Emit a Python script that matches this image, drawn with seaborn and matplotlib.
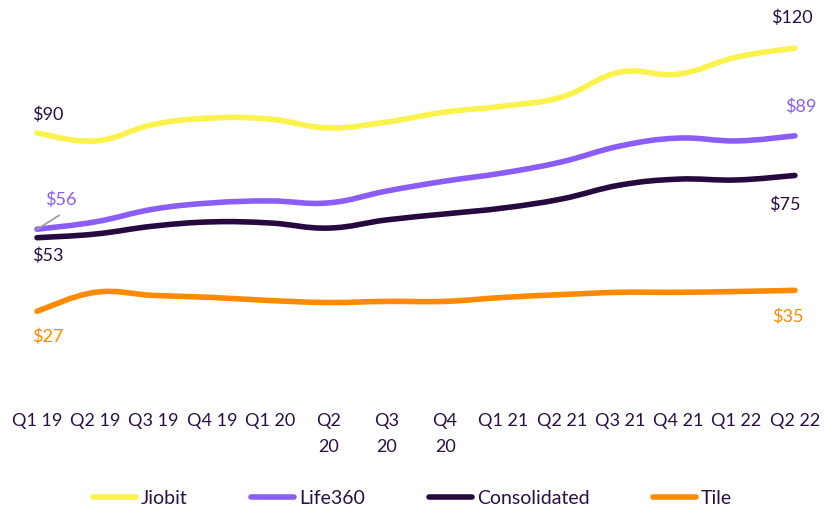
import matplotlib
matplotlib.use("Agg")
import matplotlib.pyplot as plt
from matplotlib.path import Path
from matplotlib.patches import PathPatch
import seaborn as sns
import pandas as pd
import numpy as np

# quarters (tick labels, some wrapped like the original)
quarters = ['Q1 19', 'Q2 19', 'Q3 19', 'Q4 19', 'Q1 20', 'Q2\n20', 'Q3\n20', 'Q4\n20',
            'Q1 21', 'Q2 21', 'Q3 21', 'Q4 21', 'Q1 22', 'Q2 22']

jiobit = [90, 87.2, 93, 95.3, 94.9, 91.8, 93.9, 97.4, 99.5, 102.7, 111.5, 110.8, 116.8, 120]
life360 = [56, 58.6, 63.1, 65.3, 66, 65.3, 69.5, 73, 75.9, 79.8, 85.4, 88.2, 87.2, 89]
consolidated = [53, 54.3, 57.1, 58.6, 58.2, 56.4, 59.3, 61.4, 63.5, 66.7, 71.6, 73.7, 73.4, 75]
tile = [27, 33.7, 32.6, 31.9, 30.8, 30.1, 30.5, 30.5, 31.9, 32.9, 33.7, 33.7, 34, 34.4]

series = {'Jiobit': jiobit, 'Life360': life360, 'Consolidated': consolidated, 'Tile': tile}
colors = {'Jiobit': '#fcf24c', 'Life360': '#8b5cf6', 'Consolidated': '#26093f', 'Tile': '#ff8a00'}
dark = '#2a0f47'

rows = []
for name, vals in series.items():
    for i, v in enumerate(vals):
        rows.append({'q': i, 'value': v, 'series': name})
df = pd.DataFrame(rows)


def smooth_path(xy, t=0.2):
    # bezier through the data points (spline-style line shape)
    verts = [tuple(xy[0])]
    codes = [Path.MOVETO]
    n = len(xy)
    for i in range(n - 1):
        p0 = xy[max(i - 1, 0)]
        p1 = xy[i]
        p2 = xy[i + 1]
        p3 = xy[min(i + 2, n - 1)]
        c1 = p1 + (p2 - p0) * t
        c2 = p2 - (p3 - p1) * t
        verts += [tuple(c1), tuple(c2), tuple(p2)]
        codes += [Path.CURVE4] * 3
    return Path(verts, codes)


sns.set_theme(style='white')
plt.rcParams['font.family'] = ['Lato', 'DejaVu Sans']

fig = plt.figure(figsize=(8.25, 5.07), dpi=100)
ax = fig.add_axes([0, 1 - 395 / 507, 1, 395 / 507])

sns.lineplot(data=df, x='q', y='value', hue='series', palette=colors, linewidth=4,
             ax=ax, legend=False)

# swap the straight polylines for smooth curves through the same points
for line in list(ax.get_lines()):
    xy = np.asarray(line.get_xydata(), dtype=float)
    patch = PathPatch(smooth_path(xy), facecolor='none', edgecolor=line.get_color(),
                      lw=4, capstyle='round', joinstyle='round', zorder=line.get_zorder())
    ax.add_patch(patch)
    line.set_visible(False)

ax.set_xlim(-37 / 58.3, (825 - 37) / 58.3)
ax.set_ylim(90 - (395 - 133) / 2.83, 90 + 133 / 2.83)
ax.set_xticks(range(len(quarters)))
ax.set_xticklabels(quarters, fontsize=13, color=dark, va='top', linespacing=1.75)
ax.tick_params(axis='x', length=0, pad=13)
ax.set_yticks([])
ax.set_xlabel('')
ax.set_ylabel('')
for s in ax.spines.values():
    s.set_visible(False)

last = len(quarters) - 1
lbl = dict(fontsize=13, ha='center', va='center', textcoords='offset points')
ax.annotate('$90', xy=(0, jiobit[0]), xytext=(8, 13), color=dark, **lbl)
ax.annotate('$56', xy=(0, life360[0]), xytext=(17, 21), color='#8b5cf6', **lbl)
# grey leader line for the $56 label
ax.annotate('', xy=(0, life360[0]), xytext=(16, 10), textcoords='offset points',
            arrowprops=dict(arrowstyle='-', color='#a0a0a0', lw=1.3, shrinkA=0, shrinkB=0),
            zorder=5)
ax.annotate('$53', xy=(0, consolidated[0]), xytext=(8, -13), color=dark, **lbl)
ax.annotate('$27', xy=(0, tile[0]), xytext=(8, -18), color='#ff8a00', **lbl)
ax.annotate('$120', xy=(last, jiobit[-1]), xytext=(-2, 22), color=dark, **lbl)
ax.annotate('$89', xy=(last, life360[-1]), xytext=(4, 21), color='#8b5cf6', **lbl)
ax.annotate('$75', xy=(last, consolidated[-1]), xytext=(-7, -21), color=dark, **lbl)
ax.annotate('$35', xy=(last, tile[-1]), xytext=(-5, -19), color='#ff8a00', **lbl)

handles = [plt.Line2D([], [], color=colors[n], lw=4, solid_capstyle='round') for n in series]
leg = fig.legend(handles, list(series.keys()), loc='center', bbox_to_anchor=(0.5, 1 - 498 / 507),
                 ncol=4, frameon=False, fontsize=14, handlelength=2.2, handletextpad=0.25,
                 columnspacing=3.3)
for t in leg.get_texts():
    t.set_color(dark)

fig.savefig('out.png', dpi=100)
